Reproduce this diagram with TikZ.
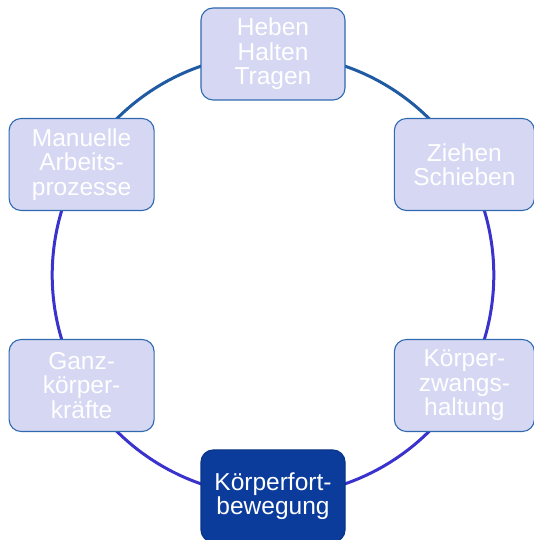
\documentclass[tikz,border=0pt]{standalone}
\usepackage{fontspec}
\setmainfont{Liberation Sans}
\usetikzlibrary{calc,backgrounds}
\definecolor{boxfill}{HTML}{D6D7F3}
\definecolor{boxline}{HTML}{2F69B0}
\definecolor{darkfill}{HTML}{0B3C9C}
\definecolor{darkline}{HTML}{0A3488}
\definecolor{ringtop}{HTML}{1F5AA3}
\definecolor{ringlow}{HTML}{3A32CC}
\tikzstyle{topic box} = [%
	rectangle,
	draw=boxline,
	fill=boxfill,
	line width=1.1pt,
	rounded corners=12pt,
	minimum width=144pt,
	minimum height=92pt,
	inner sep=0pt,
	align=center,
	text=white,
	font=\fontsize{24.5}{24.5}\selectfont
]
\tikzstyle{topic box dark} = [%
	topic box,
	draw=darkline,
	fill=darkfill
]
\tikzstyle{ring} = [line width=3pt, bend left=30, looseness=0.91]

\begin{document}
\begin{tikzpicture}[x=1pt,y=1pt]
\useasboundingbox (0,0) rectangle (533,540);
\coordinate (centre) at (273,265);

% topics around the ring
\node[topic box] (heben) at ($(centre)+(90:221)$) {Heben\\Halten\\Tragen};
\node[topic box, minimum width=140pt] (ziehen) at ($(centre)+(30:221)$) {Ziehen\\Schieben};
\node[topic box, minimum width=140pt] (zwang) at ($(centre)+(-30:221)$) {Körper-\\zwangs-\\haltung};
\node[topic box dark] (fort) at ($(centre)+(-90:221)$) {Körperfort-\\bewegung};
\node[topic box, minimum width=145pt] (ganz) at ($(centre)+(210:221)$) {Ganz-\\körper-\\kräfte};
\node[topic box, minimum width=145pt] (manuell) at ($(centre)+(150:221)$) {Manuelle\\Arbeits-\\prozesse};

% ring segments behind the boxes
\begin{scope}[on background layer]
\path[ring, draw=ringtop] (manuell.center) to (heben.center);
\path[ring, draw=ringtop] (heben.center) to (ziehen.center);
\path[ring, draw=ringlow] (ziehen.center) to (zwang.center);
\path[ring, draw=ringlow] (zwang.center) to (fort.center);
\path[ring, draw=ringlow] (fort.center) to (ganz.center);
\path[ring, draw=ringlow] (ganz.center) to (manuell.center);
\end{scope}

\end{tikzpicture}
\end{document}
